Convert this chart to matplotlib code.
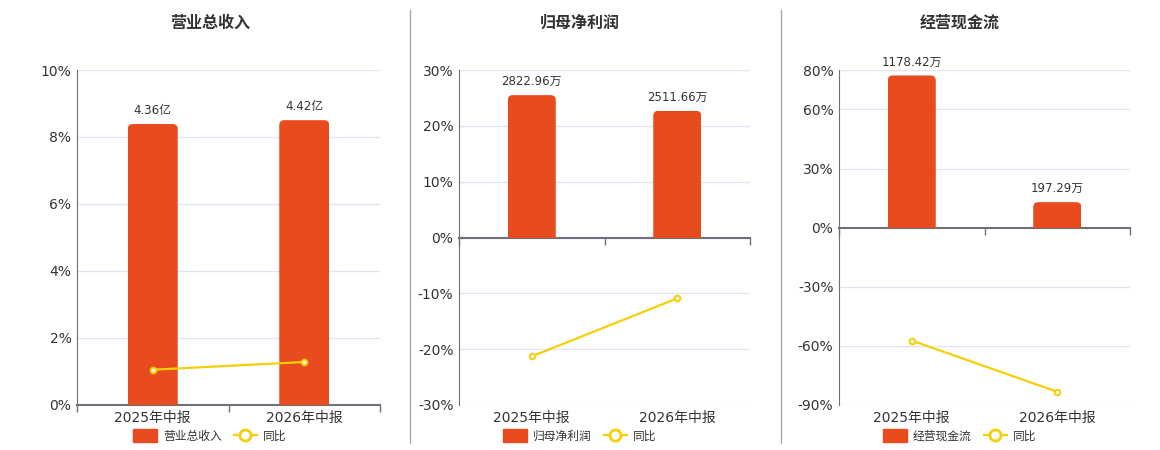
import matplotlib.pyplot as plt
from matplotlib.lines import Line2D
from matplotlib.patches import Patch, FancyBboxPatch, Rectangle
from matplotlib.transforms import blended_transform_factory

plt.rcParams['font.family'] = ['DejaVu Sans', 'Noto Sans CJK SC']

categories = ['2025年中报', '2026年中报']

titles = ['营业总收入', '归母净利润', '经营现金流']
bar_values = [[4.36, 4.42], [2822.96, 2511.66], [1178.42, 197.29]]
bar_labels = [['4.36亿', '4.42亿'], ['2822.96万', '2511.66万'], ['1178.42万', '197.29万']]
yoy_values = [[1.04, 1.27], [-21.3, -10.9], [-57.3, -83.3]]
yticks = [[0, 2, 4, 6, 8, 10], [-30, -20, -10, 0, 10, 20, 30], [-90, -60, -30, 0, 30, 60, 80]]

# bar units per percent on the hidden bar axis
bar_scale = [0.52, 110.7, 15.26]

BAR = '#E84C1E'
LINE = '#F5CF0A'
AXIS = '#6E7079'
GRID = '#E0E6F1'
TXT = '#333333'

W, H = 1160, 450
fig = plt.figure(figsize=(W / 100, H / 100), dpi=100)

# axes boxes in pixels: left, right, top, bottom
boxes = [(77, 380, 70, 404.5), (459, 750, 70, 405), (839, 1130, 70, 405)]
title_x = [210, 580, 960]
legend_x = [210, 580, 960]
radius_px = 5

for i in range(3):
    l, r, t, b = boxes[i]
    ax = fig.add_axes([l / W, 1 - b / H, (r - l) / W, (b - t) / H])
    ymin, ymax = yticks[i][0], yticks[i][-1]
    ax.set_ylim(ymin, ymax)
    ax.set_xlim(-0.5, 1.5)
    ax.set_yticks(yticks[i])
    ax.set_yticklabels([f'{v}%' for v in yticks[i]])
    ax.tick_params(axis='y', length=0, labelsize=10, colors=TXT, pad=4)
    ax.grid(axis='y', color=GRID, lw=1)
    ax.set_axisbelow(True)
    for s in ['top', 'right']:
        ax.spines[s].set_visible(False)
    ax.spines['left'].set_color(AXIS)
    ax.spines['bottom'].set_color(AXIS)
    ax.spines['bottom'].set_linewidth(1.5)
    ax.spines['bottom'].set_position(('data', 0))
    ax.set_xticks([0, 1])
    ax.set_xticklabels(['', ''])
    ax.tick_params(axis='x', which='major', length=0)
    ax.set_xticks([-0.5, 0.5, 1.5], minor=True)
    ax.tick_params(axis='x', which='minor', length=5, color=AXIS, width=1)
    tr = blended_transform_factory(ax.transData, ax.transAxes)
    for j, c in enumerate(categories):
        ax.text(j, -0.018, c, transform=tr, ha='center', va='top', fontsize=10, color=TXT)

    axb = ax.twinx()
    blo, bhi = ymin * bar_scale[i], ymax * bar_scale[i]
    axb.set_ylim(blo, bhi)
    axb.axis('off')
    bars = axb.bar(range(2), bar_values[i], width=0.33, color=BAR, zorder=2)
    px_x = (r - l) / 2.0
    px_y = (b - t) / (bhi - blo)
    rx = radius_px / px_x
    ry = radius_px / px_y
    for rect, lab in zip(bars, bar_labels[i]):
        x0, w, h = rect.get_x(), rect.get_width(), rect.get_height()
        rect.set_visible(False)
        rb = FancyBboxPatch((x0, -ry * 2), w, h + ry * 2,
                            boxstyle=f'round,pad=0,rounding_size={rx}',
                            mutation_aspect=ry / rx, facecolor=BAR, edgecolor='none', zorder=2)
        axb.add_patch(rb)
        clip = Rectangle((x0, 0), w, h, transform=axb.transData)
        rb.set_clip_path(clip)
        axb.annotate(lab, (x0 + w / 2, h), xytext=(0, 5), textcoords='offset points',
                     ha='center', va='bottom', fontsize=8.5, color=TXT)

    axl = ax.twinx()
    axl.set_ylim(ymin, ymax)
    axl.axis('off')
    axl.plot(range(2), yoy_values[i], color=LINE, lw=1.6, marker='o', ms=4,
             mfc='white', mec=LINE, mew=1.5, zorder=3)

    fig.text(title_x[i] / W, 1 - 23 / H, titles[i], ha='center', va='center',
             fontsize=11.5, fontweight='bold', color=TXT)

    handles = [Patch(facecolor=BAR, edgecolor=BAR),
               Line2D([0], [0], color=LINE, lw=1.6, marker='o', ms=8, mfc='white', mec=LINE, mew=2)]
    fig.legend(handles, [titles[i], '同比'], loc='center',
               bbox_to_anchor=(legend_x[i] / W, 1 - 436 / H), ncol=2, frameon=False,
               fontsize=8.5, labelcolor=TXT, handlelength=2.0, handleheight=1.2,
               handletextpad=0.5, columnspacing=1.0)

for x in [410, 781]:
    fig.add_artist(Line2D([x / W, x / W], [1 - 10 / H, 1 - 443 / H], color='#AAAAAA', lw=1))

fig.savefig('out.png', dpi=100)
